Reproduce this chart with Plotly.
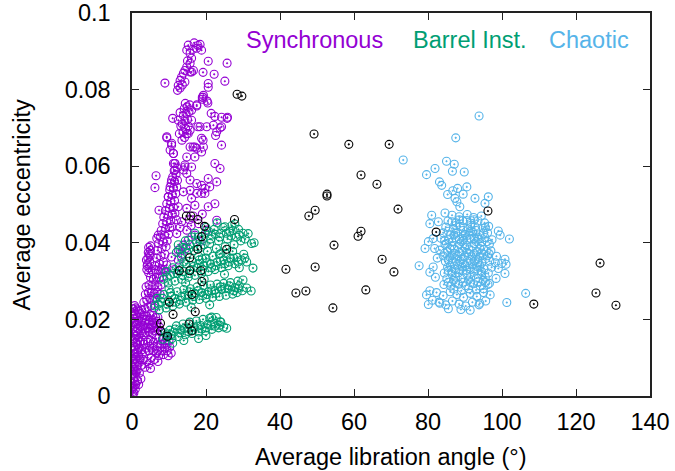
import plotly.graph_objects as go

# ---------------- data (x = average libration angle in degrees, y = average eccentricity) ----------------
synchronous_pts = [
    # dense strip along the axis
    (0.1,0.0005),(0.3,0.0012),(0.2,0.002),(0.5,0.0025),(0.3,0.0033),(0.7,0.0038),(0.4,0.0045),(0.9,0.005),
    (0.5,0.0057),(1.1,0.0062),(0.6,0.007),(0.3,0.0075),(1.2,0.0078),(0.8,0.0085),(1.5,0.009),(0.5,0.0095),
    (1.0,0.0102),(1.8,0.0105),(0.4,0.011),(1.3,0.0115),(0.8,0.0122),(2.0,0.0125),(0.5,0.013),(1.5,0.0135),
    (1.0,0.014),(2.3,0.0142),(0.6,0.0148),(1.8,0.0152),(1.2,0.0158),(0.4,0.0162),(2.6,0.0165),(0.9,0.017),
    (1.6,0.0175),(0.5,0.018),(2.2,0.0182),(1.2,0.0188),(0.7,0.0195),(1.8,0.0198),(0.4,0.0203),(1.4,0.0207),
    (0.9,0.0213),(2.4,0.0215),(0.6,0.022),(1.5,0.0225),(1.0,0.023),(0.7,0.0236),
    (0.2,0.006),(0.8,0.0065),(1.4,0.0068),(0.2,0.009),(0.9,0.0095),(2.2,0.0095),(0.2,0.0118),(1.6,0.012),
    (2.6,0.012),(0.3,0.0145),(1.5,0.0145),(3.0,0.0145),(0.2,0.0175),(1.2,0.0168),(2.3,0.017),(0.3,0.0192),
    (1.3,0.0195),(2.6,0.0195),(0.3,0.0228),(1.9,0.0222),(0.5,0.0008),(1.0,0.003),(0.3,0.0105),
    # fan
    (1.5,0.004),(2.0,0.006),(2.6,0.008),(3.0,0.0095),(3.5,0.0075),(2.8,0.011),(4.0,0.009),(4.6,0.0085),
    (3.6,0.0115),(5.2,0.01),(4.5,0.0118),(6.0,0.0095),(5.5,0.0125),(6.6,0.0112),(7.2,0.0105),(6.8,0.0128),
    (8.0,0.0118),(7.6,0.0135),(8.8,0.0125),(9.5,0.0118),(10.2,0.0128),(9.0,0.0138),(10.6,0.0112),(3.2,0.0135),
    (4.2,0.014),(5.0,0.0145),(5.8,0.014),(6.5,0.015),(7.3,0.0152),(8.2,0.0148),(9.3,0.0152),(10.0,0.0145),
    (3.0,0.016),(3.8,0.0165),(4.6,0.0168),(5.5,0.0163),(6.2,0.017),(7.0,0.0172),(7.8,0.0168),(2.9,0.0185),
    (3.6,0.019),(4.4,0.0188),(5.2,0.0185),(6.0,0.0192),(6.8,0.019),(3.2,0.021),(4.0,0.0208),(4.8,0.0212),
    (5.6,0.021),(2.6,0.0225),(3.5,0.0228),(4.3,0.0232),(5.1,0.0235),(6.0,0.023),(8.5,0.0108),(9.8,0.0105),
    (7.0,0.009),(5.0,0.0072),(2.4,0.0045),(1.8,0.003),(0.9,0.0018),
    (3.8,0.0125),(4.8,0.013),(5.8,0.0118),(7.0,0.0118),(8.0,0.0135),(9.5,0.0135),(3.5,0.0175),(4.3,0.0178),
    (5.0,0.0175),(5.8,0.0178),(6.6,0.018),(7.4,0.018),(2.8,0.02),(3.8,0.02),(4.6,0.0198),(5.4,0.0198),
    (6.4,0.0205),(7.0,0.0205),
    # x 3-9, y 0.024-0.033
    (3.2,0.0245),(4.0,0.025),(4.8,0.0255),(5.6,0.025),(6.4,0.0255),(3.6,0.0265),(4.4,0.027),(5.2,0.027),
    (6.0,0.0268),(6.8,0.027),(7.6,0.0265),(3.8,0.0285),(4.6,0.029),(5.4,0.0288),(6.2,0.029),(7.0,0.0285),
    (7.8,0.029),(5.0,0.031),(5.8,0.0305),(6.6,0.031),(7.4,0.0308),(8.2,0.0312),(5.5,0.0325),(6.3,0.033),
    (7.1,0.0328),(7.9,0.0332),(8.6,0.033),
    # oval blob
    (4.0,0.033),(4.6,0.0335),(4.2,0.0345),(4.8,0.035),(4.3,0.036),(4.9,0.0365),(4.4,0.0375),(5.0,0.038),
    (4.5,0.0388),(5.0,0.0392),(4.1,0.034),(4.7,0.037),(3.9,0.0355),(4.5,0.0322),
    # diagonal band
    (6.2,0.034),(7.4,0.0345),(8.5,0.035),(6.6,0.036),(7.8,0.0365),(8.9,0.037),(6.9,0.038),(8.1,0.0385),
    (9.2,0.039),(7.2,0.0398),(8.4,0.0402),(9.5,0.0405),(7.6,0.0415),(8.8,0.042),(9.9,0.0422),(7.9,0.0432),
    (9.1,0.0437),(10.2,0.044),(8.3,0.045),(9.4,0.0455),(10.5,0.0458),(8.6,0.0467),(9.8,0.0472),(10.9,0.0475),
    (9.0,0.0484),(10.1,0.049),(11.2,0.0492),(9.4,0.0502),(10.5,0.0507),(11.5,0.051),(9.8,0.052),(10.9,0.0525),
    (11.8,0.0528),(10.2,0.0538),(11.2,0.0543),(12.1,0.0546),(10.6,0.0556),(11.5,0.056),(12.3,0.0563),
    (11.0,0.0572),(11.9,0.0578),(11.4,0.0588),(12.2,0.0595),(11.6,0.0607),
    (6.5,0.0575),(6.2,0.0544),(7.1,0.0420),(6.7,0.0412),(7.3,0.0485),
    # scattered middle
    (17.5,0.0555),(15.7,0.0537),(13.9,0.0533),(19.7,0.0542),(18.8,0.0529),(22.4,0.0502),(20.6,0.0494),
    (22.9,0.0459),(20.2,0.0433),(16.1,0.0516),(17.0,0.0498),(14.8,0.049),(12.5,0.0494),(11.6,0.0477),
    (13.4,0.0455),(10.7,0.0442),(12.1,0.0424),(14.8,0.0433),(15.2,0.0407),(17.0,0.042),(18.4,0.0403),
    (13.9,0.0394),(12.5,0.0381),(10.7,0.0363),(9.4,0.0342),(8.9,0.0324),
    (11.2,0.0633),(11.6,0.0607),(14.8,0.0624),(17.0,0.0624),(18.8,0.0637),(22.4,0.0607),(23.8,0.0594),
    (14.3,0.0603),(13.9,0.059),(11.2,0.0607),(11.6,0.059),(10.7,0.0564),(10.3,0.0546),(9.8,0.052),
    (14.3,0.0598),(14.8,0.0581),(15.7,0.0564),(16.1,0.0598),(18.8,0.055),(20.6,0.0568),(17.5,0.0529),
    (19.7,0.0529),(22.9,0.0559),(21.0,0.0546),
    (11.5,0.033),(12.5,0.0355),(13.5,0.037),(14.5,0.0385),(16.0,0.0445),(15.5,0.046),(13.0,0.044),
    (12.0,0.046),(16.5,0.047),(18.0,0.045),(19.0,0.0475),
    # upper middle
    (11.0,0.0725),(9.4,0.0674),(10.7,0.0655),(10.3,0.0642),(11.2,0.0633),(10.7,0.066),(9.4,0.0677),
    (13.5,0.0668),(14.2,0.0675),(14.8,0.0685),(13.8,0.069),(14.5,0.0698),(15.2,0.0705),(13.6,0.071),
    (14.3,0.0718),(15.0,0.0722),(13.9,0.0732),(14.6,0.0738),(15.4,0.0742),(14.1,0.075),(14.9,0.0755),
    (15.6,0.076),(14.4,0.0764),(13.2,0.0705),(12.8,0.0685),(12.5,0.072),(13.0,0.074),
    (17.5,0.0757),(19.2,0.078),(20.3,0.077),(21.4,0.0738),(22.4,0.073),(24.2,0.0728),(25.8,0.0728),
    (17.8,0.0703),(20.2,0.0703),(22.0,0.0707),(23.8,0.070),(22.6,0.068),(18.8,0.0673),(24.2,0.0655),
    (16.5,0.065),(17.5,0.0647),(19.2,0.0668),(15.7,0.0694),(16.1,0.072),(16.1,0.0746),(19.3,0.0785),
    (19.0,0.0775),(15.2,0.0685),(15.7,0.065),(17.0,0.065),(19.3,0.065),(18.4,0.0703),(22.9,0.069),
    (24.2,0.0703),(25.7,0.0725),
    # top streak
    (15.2,0.0916),(16.8,0.0922),(18.4,0.0918),(17.5,0.0908),(18.8,0.0903),(14.8,0.0903),(15.7,0.0895),
    (16.1,0.0882),(15.7,0.0869),(14.8,0.0859),(14.3,0.085),(13.9,0.0843),(15.7,0.0846),(13.4,0.0833),
    (13.0,0.0824),(12.5,0.0811),(13.0,0.0804),(14.3,0.082),(16.1,0.0846),(16.6,0.085),(8.9,0.0817),
    (12.3,0.0798),(13.6,0.0812),(15.0,0.0875),(16.4,0.0905),(17.8,0.0915),
    (20.6,0.0874),(25.7,0.0869),(19.2,0.0845),(22.2,0.084),(25.1,0.0822),(20.6,0.0816),(20.6,0.0806),
    (19.0,0.078),(20.5,0.0765),(17.5,0.076),
]

barrel_pts = [
    # top row
    (12.0,0.0375),(12.5,0.0395),(13.3,0.0365),(13.8,0.0388),(14.4,0.0405),(15.0,0.0372),(15.6,0.0395),
    (16.2,0.0415),(16.8,0.038),(17.4,0.0402),(18.0,0.0365),(18.6,0.0388),(19.2,0.041),(19.8,0.0425),
    (20.4,0.0378),(21.0,0.0398),(21.6,0.042),(22.2,0.0435),(22.8,0.0385),(23.4,0.0405),(24.0,0.0425),
    (24.6,0.044),(25.2,0.039),(25.8,0.041),(26.4,0.043),(27.0,0.0445),(27.6,0.0395),(28.2,0.0415),
    (28.8,0.0435),(29.4,0.0405),(30.0,0.0425),(30.6,0.041),(31.4,0.0424),(32.3,0.0398),(33.0,0.040),
    (17.0,0.0425),(20.0,0.044),(23.0,0.0452),(25.1,0.0442),(27.8,0.0449),(14.0,0.035),(19.0,0.0358),
    (24.0,0.0372),
    (13.0,0.0382),(15.3,0.0383),(17.7,0.039),(19.5,0.0395),(21.3,0.041),(23.7,0.0415),(25.5,0.0425),
    (26.8,0.0418),(29.0,0.042),(27.3,0.0432),(22.5,0.0422),(20.7,0.043),(18.0,0.0415),
    # second row
    (8.5,0.0305),(9.2,0.0325),(9.8,0.0295),(10.4,0.0315),(11.0,0.0335),(11.6,0.030),(12.2,0.032),
    (12.8,0.034),(13.4,0.0305),(14.0,0.0325),(14.6,0.0345),(15.2,0.031),(15.8,0.033),(16.4,0.035),
    (17.0,0.0315),(17.6,0.0335),(18.2,0.0355),(18.8,0.032),(19.4,0.034),(20.0,0.036),(20.6,0.0325),
    (21.2,0.0345),(21.8,0.0365),(22.4,0.033),(23.0,0.035),(23.6,0.037),(24.2,0.0335),(24.8,0.0355),
    (25.4,0.0372),(26.0,0.034),(26.6,0.036),(27.2,0.0378),(27.8,0.0345),(28.4,0.0362),(29.0,0.0335),
    (29.6,0.0355),(30.2,0.037),(31.0,0.035),(32.7,0.0334),(30.0,0.0303),(10.0,0.028),(14.5,0.0295),
    (19.5,0.0305),(25.0,0.0318),
    (9.5,0.031),(11.3,0.032),(12.5,0.0328),(13.7,0.0315),(15.5,0.032),(16.7,0.0338),(17.9,0.0345),
    (19.1,0.033),(20.3,0.0348),(21.5,0.0335),(22.7,0.034),(23.9,0.0352),(25.1,0.0345),(26.3,0.035),
    (27.5,0.036),(28.7,0.035),(30.5,0.036),
    # third row
    (6.2,0.0235),(6.8,0.0255),(7.4,0.0225),(8.0,0.0245),(8.6,0.0265),(9.2,0.023),(9.8,0.025),(10.4,0.027),
    (11.0,0.0235),(11.6,0.0255),(12.2,0.0272),(12.8,0.024),(13.4,0.026),(14.0,0.0278),(14.6,0.0245),
    (15.2,0.0263),(15.8,0.028),(16.4,0.025),(17.0,0.0268),(17.6,0.0285),(18.2,0.0252),(18.8,0.027),
    (19.4,0.0288),(20.0,0.0255),(20.6,0.0273),(21.2,0.029),(21.8,0.0258),(22.4,0.0276),(23.0,0.0292),
    (23.6,0.026),(24.2,0.0278),(24.8,0.0294),(25.4,0.0263),(26.0,0.028),(26.6,0.0296),(27.2,0.0266),
    (27.8,0.0283),(28.4,0.027),(29.0,0.0288),(29.8,0.0275),(32.2,0.0274),(31.0,0.0282),(16.0,0.0232),
    (21.0,0.0238),(28.6,0.0300),
    (7.1,0.024),(8.3,0.0255),(9.5,0.024),(10.7,0.026),(11.9,0.0245),(13.1,0.025),(14.3,0.0262),
    (15.5,0.0272),(16.7,0.026),(17.9,0.0275),(19.1,0.0262),(20.3,0.0265),(21.5,0.0275),(22.7,0.0268),
    (23.9,0.0285),(25.1,0.028),(26.3,0.0288),(27.5,0.0275),(28.7,0.0282),
    # bottom row
    (8.4,0.0148),(9.0,0.0165),(9.6,0.0155),(10.2,0.0172),(10.8,0.015),(11.4,0.0167),(12.0,0.0183),
    (12.6,0.0155),(13.2,0.0172),(13.8,0.0188),(14.4,0.016),(15.0,0.0177),(15.6,0.0193),(16.2,0.0163),
    (16.8,0.018),(17.4,0.0196),(18.0,0.0167),(18.6,0.0184),(19.2,0.02),(19.8,0.017),(20.4,0.0187),
    (21.0,0.0203),(21.6,0.0174),(22.2,0.019),(22.8,0.0205),(23.4,0.0178),(24.0,0.0193),(24.8,0.018),
    (25.6,0.0177),(23.8,0.0194),(21.5,0.0206),(14.0,0.0145),(18.0,0.015),(11.0,0.0138),(20.0,0.0158),
    (9.3,0.016),(10.5,0.016),(11.7,0.0175),(12.9,0.0165),(14.1,0.0176),(15.3,0.0168),(16.5,0.0172),
    (17.7,0.0182),(18.9,0.0175),(20.1,0.0178),(21.3,0.0185),(22.5,0.0182),(23.7,0.0185),
]

chaotic_pts = [
    (86.5,0.0472),(88.4,0.0468),(90.6,0.0474),(92.3,0.0466),(94.4,0.047),
    (85.4,0.0457),(87.6,0.0452),(89.4,0.0458),(91.6,0.0451),(93.5,0.0457),(95.3,0.0452),
    (84.8,0.0441),(86.9,0.0437),(88.7,0.0443),(90.9,0.0436),(92.7,0.0442),(94.9,0.0438),(96.4,0.0443),
    (84.1,0.0426),(86.1,0.0421),(88.0,0.0427),(90.1,0.0422),(92.1,0.0428),(93.9,0.0421),(96.1,0.0426),
    (83.5,0.0412),(85.6,0.0408),(87.4,0.0413),(89.6,0.0407),(91.4,0.0412),(93.6,0.0409),(95.4,0.0414),(97.3,0.0408),
    (84.6,0.0396),(86.4,0.0392),(88.6,0.0397),(90.4,0.0393),(92.6,0.0398),(94.4,0.0391),(96.6,0.0396),
    (83.2,0.0381),(85.3,0.0377),(87.1,0.0383),(89.3,0.0378),(91.1,0.0382),(93.3,0.0377),(95.1,0.0383),(97.0,0.0379),
    (84.1,0.0366),(85.9,0.0362),(88.1,0.0367),(89.9,0.0363),(92.1,0.0368),(93.9,0.0362),(96.1,0.0366),
    (84.7,0.0351),(86.5,0.0347),(88.7,0.0352),(90.5,0.0348),(92.7,0.0353),(94.5,0.0347),(96.7,0.0352),(98.2,0.0348),
    (85.3,0.0336),(87.1,0.0332),(89.3,0.0337),(91.1,0.0333),(93.3,0.0338),(95.1,0.0332),(97.2,0.0336),
    (84.4,0.0321),(86.5,0.0317),(88.3,0.0322),(90.5,0.0318),(92.3,0.0323),(94.5,0.0317),(96.3,0.0321),
    (85.1,0.0306),(86.9,0.0302),(89.1,0.0307),(90.9,0.0303),(93.1,0.0308),(94.9,0.0302),
    (84.3,0.0291),(86.1,0.0287),(88.3,0.0292),(90.1,0.0288),(92.3,0.0293),(94.1,0.0287),(96.2,0.0291),
    (87.5,0.0445),(89.5,0.0432),(91.5,0.0445),(93.0,0.0432),(87.0,0.042),(89.0,0.0403),(91.0,0.042),
    (93.0,0.0403),(95.0,0.0425),(86.0,0.0385),(88.0,0.039),(90.0,0.0387),(92.0,0.039),(94.0,0.0385),
    (87.0,0.0372),(89.0,0.0357),(91.0,0.0372),(93.0,0.0357),(95.0,0.037),(86.0,0.034),(88.0,0.0344),
    (90.0,0.034),(92.0,0.0345),(94.0,0.034),(87.5,0.031),(89.5,0.0328),(91.5,0.031),(93.5,0.0327),
    (95.5,0.031),(85.0,0.0398),(96.0,0.0403),(85.5,0.0328),
    (86.5,0.0455),(88.5,0.046),(90.5,0.0458),(92.5,0.046),(85.5,0.043),(87.5,0.0425),(89.5,0.0418),
    (91.5,0.043),(93.5,0.0415),(95.5,0.044),(84.5,0.0405),(86.5,0.0402),(88.5,0.041),(90.5,0.0408),
    (92.5,0.0412),(94.5,0.0402),(84.5,0.0373),(86.5,0.0368),(88.5,0.0375),(90.5,0.0375),(92.5,0.0372),
    (94.5,0.0373),(96.5,0.0372),(85.5,0.0355),(87.5,0.0358),(89.5,0.0345),(91.5,0.0357),(93.5,0.0348),
    (95.5,0.0358),(86.5,0.0325),(88.5,0.033),(90.5,0.0328),(92.5,0.0332),(94.5,0.0325),(85.5,0.0297),
    (87.5,0.0295),(89.5,0.0297),(91.5,0.0296),(93.5,0.0298),(95.5,0.0296),(87.0,0.0279),(89.0,0.0275),
    (91.0,0.028),(93.0,0.0277),(95.0,0.028),
    # lower part
    (80.5,0.0275),(82.3,0.027),(84.1,0.0262),(86.0,0.0272),(87.8,0.0265),(89.6,0.0258),(91.4,0.0268),
    (93.2,0.026),(95.0,0.027),(96.8,0.0264),(81.2,0.025),(83.0,0.0245),(84.8,0.0238),(86.6,0.0248),
    (88.4,0.024),(90.2,0.0235),(92.0,0.0245),(93.8,0.0238),(95.6,0.0248),(85.5,0.0228),(88.9,0.0226),
    (91.4,0.0224),(94.0,0.0242),(80.1,0.0239),(83.2,0.0242),(79.6,0.0264),
    # left / right fringes
    (80.1,0.0403),(79.2,0.0385),(81.4,0.0411),(77.6,0.034),(80.5,0.0323),(81.4,0.0337),(82.5,0.036),
    (82.0,0.031),(81.8,0.0385),
    (99.0,0.0431),(99.5,0.042),(102.0,0.041),(100.8,0.0357),(101.1,0.0344),(100.8,0.032),(98.4,0.0307),
    (96.6,0.0294),(99.0,0.0333),(99.9,0.0346),(106.4,0.0268),(101.3,0.0244),(98.5,0.0365),
    # upper outliers
    (85.0,0.0613),(87.1,0.0605),(79.6,0.0578),(81.9,0.0594),(86.6,0.0587),(89.8,0.0585),(83.1,0.0559),
    (83.7,0.055),(90.5,0.0546),(88.0,0.0542),(86.7,0.0536),(85.3,0.0526),(89.5,0.0527),(87.3,0.0516),
    (92.7,0.0516),(96.3,0.052),(95.4,0.0503),(87.8,0.0507),(88.6,0.0494),(81.0,0.0472),(84.6,0.0478),
    (80.5,0.045),(82.8,0.0455),(93.8,0.0731),(87.5,0.0674),(73.3,0.0616),
]

other_pts = [
    (28.4,0.0788),(29.7,0.0783),(49.2,0.0684),(58.6,0.0657),(69.5,0.0657),(61.9,0.0577),(66.2,0.0553),
    (52.7,0.0527),(52.7,0.0522),(49.5,0.0485),(47.8,0.047),(71.9,0.0488),(61.9,0.043),(61.1,0.0417),
    (54.6,0.0394),(49.5,0.0337),(41.6,0.0331),(67.6,0.0357),(70.8,0.0324),(44.3,0.0269),(47.0,0.0274),
    (63.2,0.0277),(54.3,0.023),(96.2,0.0483),(82.2,0.0428),(108.6,0.024),(126.5,0.0347),(125.4,0.0269),
    (130.8,0.0237),
    (14.7,0.047),(15.9,0.047),(17.8,0.0461),(27.7,0.0461),(19.6,0.0443),(18.8,0.0416),(17.8,0.0383),
    (25.6,0.0383),(15.6,0.0361),(12.8,0.0327),(15.6,0.0327),(18.6,0.0327),(18.9,0.0299),(16.2,0.0265),
    (10.1,0.0245),(11.1,0.0213),(17.1,0.022),(7.7,0.019),(15.4,0.0188),(7.7,0.017),(16.2,0.017),(9.6,0.0156),
]

series = [
    ("Synchronous", synchronous_pts, "#9400D3"),
    ("Barrel Inst.", barrel_pts, "#009E73"),
    ("Chaotic", chaotic_pts, "#56B4E9"),
    ("Other", other_pts, "#000000"),
]
legend_labels = ["Synchronous", "Barrel Inst.", "Chaotic"]
legend_colors = ["#9400D3", "#009E73", "#56B4E9"]
legend_x = [30.3, 75.4, 112.2]

x_ticks = [0, 20, 40, 60, 80, 100, 120, 140]
y_ticks = [0, 0.02, 0.04, 0.06, 0.08, 0.1]

FONT = "Liberation Sans, Arial, sans-serif"

fig = go.Figure()
for name, pts, color in series:
    fig.add_trace(go.Scatter(
        x=[p[0] for p in pts], y=[p[1] for p in pts], mode="markers", name=name,
        marker=dict(symbol="circle-open-dot", size=8, color=color, line=dict(width=1.1, color=color)),
        showlegend=False, cliponaxis=True,
    ))

for lab, col, lx in zip(legend_labels, legend_colors, legend_x):
    fig.add_annotation(x=lx, y=0.0929, xref="x", yref="y", text=lab, showarrow=False,
                       xanchor="left", yanchor="middle", font=dict(family=FONT, size=23.5, color=col))

fig.add_annotation(x=-0.2124, y=0.5, xref="paper", yref="paper", text="Average eccentricity",
                   textangle=-90, showarrow=False, xanchor="center", yanchor="middle",
                   font=dict(family=FONT, size=23.5, color="#000"))
fig.add_annotation(x=0.5, y=-0.159, xref="paper", yref="paper", text="Average libration angle (°)",
                   showarrow=False, xanchor="center", yanchor="middle",
                   font=dict(family=FONT, size=23.5, color="#000"))

axis_common = dict(showgrid=False, zeroline=False, ticks="inside", ticklen=7, tickwidth=1,
                   tickcolor="#222", showline=True, linecolor="#222", linewidth=1.5,
                   mirror="allticks", automargin=False,
                   tickfont=dict(family=FONT, size=23.5, color="#000"))
fig.update_xaxes(range=[0, 140], tickvals=x_ticks, ticktext=[str(v) for v in x_ticks],
                 ticklabelstandoff=4, **axis_common)
fig.update_yaxes(range=[0, 0.1], tickvals=y_ticks, ticktext=["0", "0.02", "0.04", "0.06", "0.08", "0.1"],
                 ticklabelstandoff=15, **axis_common)

fig.update_layout(width=675, height=471, margin=dict(l=132, r=25, t=13, b=75, autoexpand=False),
                  paper_bgcolor="white", plot_bgcolor="white", font=dict(family=FONT))

fig.write_html("out.html", config={"displayModeBar": False},
               post_script="document.body.style.margin='0px';")
